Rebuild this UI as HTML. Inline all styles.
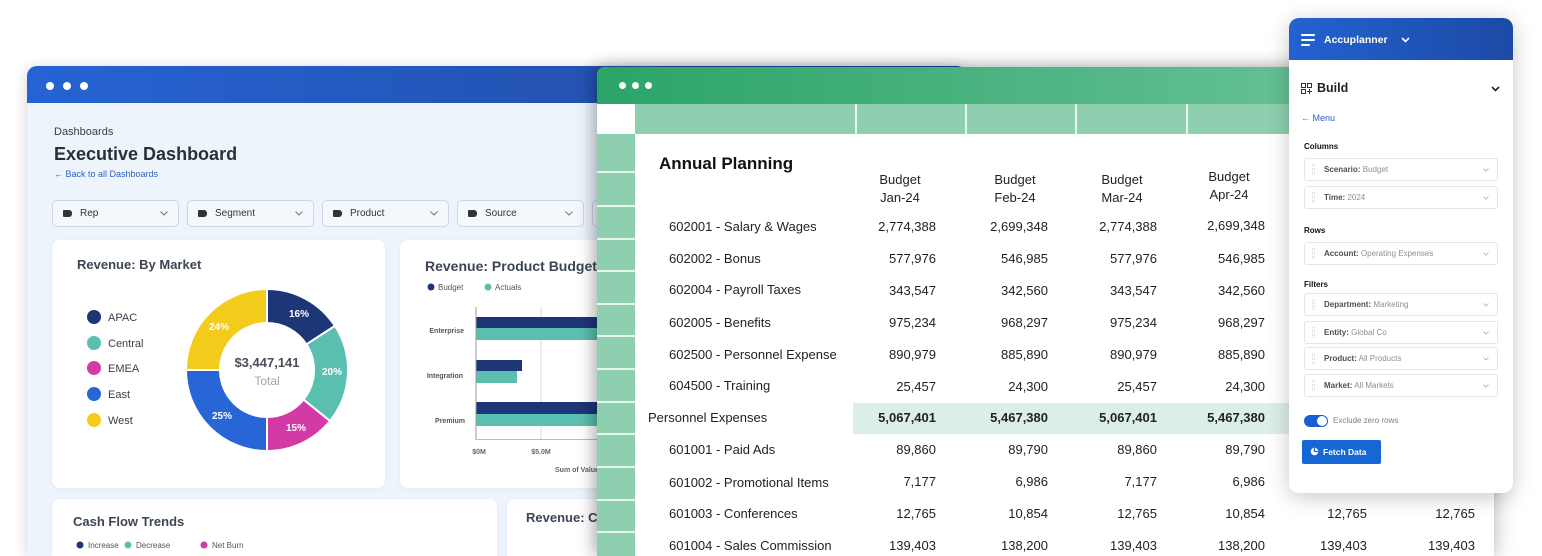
<!DOCTYPE html>
<html><head><meta charset="utf-8">
<style>
*{box-sizing:border-box;margin:0;padding:0}
html,body{width:1542px;height:556px;overflow:hidden;background:#fff}
body{font-family:"Liberation Sans",Arial,sans-serif;color:#222}
#w{position:relative;width:1542px;height:556px;overflow:hidden;background:#fff}
.a{position:absolute;white-space:nowrap}
.L{z-index:2}.S{z-index:6}.P{z-index:11}
.fl{top:200px;width:127px;height:27px;border:1px solid #cdd6e3;border-radius:5px;background:#f4f8fd;font-size:10px;line-height:25px;padding-left:27px;color:#333}
.fl i{position:absolute;left:10px;top:9px;width:9px;height:7px;background:#333;border-radius:1px 3px 3px 1px}
.fl svg{position:absolute;right:10px;top:10px}
.card{background:#fff;border-radius:8px;box-shadow:0 1px 4px rgba(40,70,120,.06)}
.rl{font-size:13px;line-height:16px;color:#222}
.v{font-size:13px;line-height:16px;width:120px;text-align:right;color:#222}
.b{font-weight:bold}
.ch{font-size:13px;line-height:18px;width:80px;text-align:center;color:#222}
.dd{left:1304px;width:194px;height:23px;border:1px solid #e3e5e9;border-radius:3px;font-size:8px;line-height:21px;padding-left:19px;color:#8a8f98;background:#fff}
.dd b{color:#4a4f58}
.dd i{position:absolute;left:7px;top:5px;width:3px;height:11px;border-left:1px dotted #d8d8d8;border-right:1px dotted #d8d8d8}
.dd svg{position:absolute;right:8px;top:9px}
.sec{left:1304px;font-size:8px;font-weight:bold;color:#111;line-height:10px}
</style></head><body><div id="w">

<!-- LEFT WINDOW -->
<div class="a" style="z-index:1;left:27px;top:66px;width:940px;height:490px;border-radius:10px 10px 0 0;background:#edf4fc;box-shadow:0 2px 14px rgba(0,0,0,.18);overflow:hidden">
  <div style="height:37px;background:linear-gradient(90deg,#2563d3,#2453b3 60%,#1f4aa0)"></div>
</div>
<div class="a L" style="left:46px;top:82px;width:8px;height:8px;border-radius:50%;background:#fff"></div>
<div class="a L" style="left:63px;top:82px;width:8px;height:8px;border-radius:50%;background:#fff"></div>
<div class="a L" style="left:80px;top:82px;width:8px;height:8px;border-radius:50%;background:#fff"></div>

<div class="a L" style="left:54px;top:125px;font-size:11px;line-height:14px;color:#3a3f4a">Dashboards</div>
<div class="a L" style="left:54px;top:143px;font-size:18px;line-height:22px;font-weight:bold;color:#2b2f38">Executive Dashboard</div>
<div class="a L" style="left:54px;top:169px;font-size:9px;line-height:11px;color:#2f62c5">&#8592; Back to all Dashboards</div>

<div class="a L fl" style="left:52px"><i></i>Rep<svg width="8" height="5"><polyline points="0.5,0.5 4,4 7.5,0.5" fill="none" stroke="#777" stroke-width="1"/></svg></div>
<div class="a L fl" style="left:187px"><i></i>Segment<svg width="8" height="5"><polyline points="0.5,0.5 4,4 7.5,0.5" fill="none" stroke="#777" stroke-width="1"/></svg></div>
<div class="a L fl" style="left:322px"><i></i>Product<svg width="8" height="5"><polyline points="0.5,0.5 4,4 7.5,0.5" fill="none" stroke="#777" stroke-width="1"/></svg></div>
<div class="a L fl" style="left:457px"><i></i>Source<svg width="8" height="5"><polyline points="0.5,0.5 4,4 7.5,0.5" fill="none" stroke="#777" stroke-width="1"/></svg></div>
<div class="a L fl" style="left:592px"><i></i></div>

<div class="a L card" style="left:52px;top:240px;width:333px;height:248px"></div>
<div class="a L card" style="left:400px;top:240px;width:400px;height:248px"></div>
<div class="a L card" style="left:52px;top:499px;width:445px;height:57px;border-radius:8px 8px 0 0"></div>
<div class="a L card" style="left:507px;top:499px;width:300px;height:57px;border-radius:8px 8px 0 0"></div>

<div class="a L" style="left:77px;top:257px;font-size:13px;line-height:16px;font-weight:bold;color:#3d4555">Revenue: By Market</div>
<div class="a L" style="left:425px;top:257px;font-size:14px;line-height:18px;font-weight:bold;color:#3d4555">Revenue: Product Budget</div>
<div class="a L" style="left:73px;top:514px;font-size:13px;line-height:16px;font-weight:bold;color:#3d4555">Cash Flow Trends</div>
<div class="a L" style="left:526px;top:510px;font-size:13px;line-height:16px;font-weight:bold;color:#3d4555">Revenue: Cash</div>

<svg class="a L" style="left:0;top:0" width="1542" height="556" font-family="Liberation Sans, Arial, sans-serif">
  <circle cx="94" cy="317" r="7" fill="#1c3678"/>
  <circle cx="94" cy="343" r="7" fill="#5bbfb0"/>
  <circle cx="94" cy="368" r="7" fill="#d33aa6"/>
  <circle cx="94" cy="394" r="7" fill="#2866d8"/>
  <circle cx="94" cy="420" r="7" fill="#f3cb1b"/>
  <g font-size="11" fill="#3a3f4a">
    <text x="108" y="321">APAC</text>
    <text x="108" y="347">Central</text>
    <text x="108" y="372">EMEA</text>
    <text x="108" y="398">East</text>
    <text x="108" y="424">West</text>
  </g>
  <g stroke="#fff" stroke-width="2">
    <path d="M267,289 A81,81 0 0 1 334.93,325.89 L306.42,344.40 A47,47 0 0 0 267,323 Z" fill="#1c3678"/>
    <path d="M334.93,325.89 A81,81 0 0 1 329.95,420.97 L303.52,399.58 A47,47 0 0 0 306.42,344.40 Z" fill="#5bbfb0"/>
    <path d="M329.95,420.97 A81,81 0 0 1 267,451 L267,417 A47,47 0 0 0 303.52,399.58 Z" fill="#d33aa6"/>
    <path d="M267,451 A81,81 0 0 1 186,370 L220,370 A47,47 0 0 0 267,417 Z" fill="#2866d8"/>
    <path d="M186,370 A81,81 0 0 1 267,289 L267,323 A47,47 0 0 0 220,370 Z" fill="#f3cb1b"/>
  </g>
  <g font-size="10" font-weight="bold" fill="#fff" text-anchor="middle">
    <text x="299" y="317">16%</text>
    <text x="332" y="375">20%</text>
    <text x="296" y="431">15%</text>
    <text x="222" y="419">25%</text>
    <text x="219" y="330">24%</text>
  </g>
  <text x="267" y="367" font-size="13" font-weight="bold" fill="#4a4f5a" text-anchor="middle">$3,447,141</text>
  <text x="267" y="385" font-size="12" fill="#a0a4ab" text-anchor="middle">Total</text>

  <circle cx="431" cy="287" r="3.5" fill="#1c3678"/>
  <text x="438" y="290" font-size="8" fill="#555">Budget</text>
  <circle cx="488" cy="287" r="3.5" fill="#5bbfb0"/>
  <text x="495" y="290" font-size="8" fill="#555">Actuals</text>
  <line x1="541" y1="307" x2="541" y2="439" stroke="#d8d8d8" stroke-width="1"/>
  <rect x="476" y="317" width="130" height="11" fill="#1c3678"/>
  <rect x="476" y="328" width="130" height="12" fill="#5bbfb0"/>
  <rect x="476" y="360" width="46" height="11" fill="#1c3678"/>
  <rect x="476" y="371" width="41" height="12" fill="#5bbfb0"/>
  <rect x="476" y="402" width="130" height="12" fill="#1c3678"/>
  <rect x="476" y="414" width="130" height="12" fill="#5bbfb0"/>
  <line x1="476" y1="307" x2="476" y2="440" stroke="#999" stroke-width="1"/>
  <line x1="476" y1="439.5" x2="606" y2="439.5" stroke="#bbb" stroke-width="1"/>
  <g font-size="7" font-weight="bold" fill="#555" text-anchor="end">
    <text x="464" y="333">Enterprise</text>
    <text x="463" y="378">Integration</text>
    <text x="465" y="423">Premium</text>
  </g>
  <g font-size="7" font-weight="bold" fill="#666" text-anchor="middle">
    <text x="479" y="454">$0M</text>
    <text x="541" y="454">$5.0M</text>
  </g>
  <text x="555" y="472" font-size="7" font-weight="bold" fill="#666">Sum of Value</text>

  <circle cx="80" cy="545" r="3.5" fill="#1c3678"/>
  <text x="88" y="548" font-size="8" fill="#555">Increase</text>
  <circle cx="128" cy="545" r="3.5" fill="#5bbfb0"/>
  <text x="136" y="548" font-size="8" fill="#555">Decrease</text>
  <circle cx="204" cy="545" r="3.5" fill="#d33aa6"/>
  <text x="212" y="548" font-size="8" fill="#555">Net Burn</text>
</svg>

<!-- SPREADSHEET -->
<div class="a" style="z-index:5;left:597px;top:67px;width:897px;height:489px;border-radius:8px 8px 0 0;background:#fff;box-shadow:-4px 0 16px rgba(0,0,0,.28),6px 0 22px rgba(0,0,0,.12);overflow:hidden">
  <div style="height:37px;background:linear-gradient(90deg,#2ba468,#4fb584 50%,#74c9a0)"></div>
  <div style="position:absolute;left:38px;top:37px;width:859px;height:30px;background:#8dcfae"></div>
  <div style="position:absolute;left:0;top:67px;width:38px;height:422px;background:#8dcfae"></div>
</div>
<div class="a S" style="left:619px;top:82px;width:7px;height:7px;border-radius:50%;background:#fff"></div>
<div class="a S" style="left:632px;top:82px;width:7px;height:7px;border-radius:50%;background:#fff"></div>
<div class="a S" style="left:645px;top:82px;width:7px;height:7px;border-radius:50%;background:#fff"></div>
<div class="a S" style="left:855px;top:104px;width:2px;height:30px;background:#e8f6ef"></div>
<div class="a S" style="left:965px;top:104px;width:2px;height:30px;background:#e8f6ef"></div>
<div class="a S" style="left:1075px;top:104px;width:2px;height:30px;background:#e8f6ef"></div>
<div class="a S" style="left:1186px;top:104px;width:2px;height:30px;background:#e8f6ef"></div>
<div class="a S" style="left:1296px;top:104px;width:2px;height:30px;background:#e8f6ef"></div>
<div class="a S" style="left:1406px;top:104px;width:2px;height:30px;background:#e8f6ef"></div>
<div class="a S" style="left:597px;top:171px;width:38px;height:2px;background:#e8f6ef"></div>
<div class="a S" style="left:597px;top:205px;width:38px;height:2px;background:#e8f6ef"></div>
<div class="a S" style="left:597px;top:238px;width:38px;height:2px;background:#e8f6ef"></div>
<div class="a S" style="left:597px;top:270px;width:38px;height:2px;background:#e8f6ef"></div>
<div class="a S" style="left:597px;top:303px;width:38px;height:2px;background:#e8f6ef"></div>
<div class="a S" style="left:597px;top:335px;width:38px;height:2px;background:#e8f6ef"></div>
<div class="a S" style="left:597px;top:368px;width:38px;height:2px;background:#e8f6ef"></div>
<div class="a S" style="left:597px;top:401px;width:38px;height:2px;background:#e8f6ef"></div>
<div class="a S" style="left:597px;top:433px;width:38px;height:2px;background:#e8f6ef"></div>
<div class="a S" style="left:597px;top:466px;width:38px;height:2px;background:#e8f6ef"></div>
<div class="a S" style="left:597px;top:499px;width:38px;height:2px;background:#e8f6ef"></div>
<div class="a S" style="left:597px;top:531px;width:38px;height:2px;background:#e8f6ef"></div>

<div class="a S" style="left:853px;top:403px;width:641px;height:31px;background:#dcefe6"></div>

<div class="a S" style="left:659px;top:153px;font-size:17px;line-height:22px;font-weight:bold;color:#111">Annual Planning</div>

<div class="a S ch" style="left:860px;top:171px">Budget</div>
<div class="a S ch" style="left:860px;top:189px">Jan-24</div>
<div class="a S ch" style="left:975px;top:171px">Budget</div>
<div class="a S ch" style="left:975px;top:189px">Feb-24</div>
<div class="a S ch" style="left:1082px;top:171px">Budget</div>
<div class="a S ch" style="left:1082px;top:189px">Mar-24</div>
<div class="a S ch" style="left:1189px;top:168px">Budget</div>
<div class="a S ch" style="left:1189px;top:186px">Apr-24</div>

<div class="a S rl" style="left:669px;top:219px">602001 - Salary &amp; Wages</div>
<div class="a S v" style="left:816px;top:219px">2,774,388</div>
<div class="a S v" style="left:928px;top:219px">2,699,348</div>
<div class="a S v" style="left:1037px;top:219px">2,774,388</div>
<div class="a S v" style="left:1145px;top:218px">2,699,348</div>

<div class="a S rl" style="left:669px;top:251px">602002 - Bonus</div>
<div class="a S v" style="left:816px;top:251px">577,976</div>
<div class="a S v" style="left:928px;top:251px">546,985</div>
<div class="a S v" style="left:1037px;top:251px">577,976</div>
<div class="a S v" style="left:1145px;top:251px">546,985</div>

<div class="a S rl" style="left:669px;top:282px">602004 - Payroll Taxes</div>
<div class="a S v" style="left:816px;top:283px">343,547</div>
<div class="a S v" style="left:928px;top:283px">342,560</div>
<div class="a S v" style="left:1037px;top:283px">343,547</div>
<div class="a S v" style="left:1145px;top:283px">342,560</div>

<div class="a S rl" style="left:669px;top:315px">602005 - Benefits</div>
<div class="a S v" style="left:816px;top:315px">975,234</div>
<div class="a S v" style="left:928px;top:315px">968,297</div>
<div class="a S v" style="left:1037px;top:315px">975,234</div>
<div class="a S v" style="left:1145px;top:315px">968,297</div>

<div class="a S rl" style="left:669px;top:347px">602500 - Personnel Expense</div>
<div class="a S v" style="left:816px;top:347px">890,979</div>
<div class="a S v" style="left:928px;top:347px">885,890</div>
<div class="a S v" style="left:1037px;top:347px">890,979</div>
<div class="a S v" style="left:1145px;top:347px">885,890</div>

<div class="a S rl" style="left:669px;top:378px">604500 - Training</div>
<div class="a S v" style="left:816px;top:379px">25,457</div>
<div class="a S v" style="left:928px;top:379px">24,300</div>
<div class="a S v" style="left:1037px;top:379px">25,457</div>
<div class="a S v" style="left:1145px;top:379px">24,300</div>

<div class="a S rl" style="left:648px;top:410px">Personnel Expenses</div>
<div class="a S v b" style="left:816px;top:410px">5,067,401</div>
<div class="a S v b" style="left:928px;top:410px">5,467,380</div>
<div class="a S v b" style="left:1037px;top:410px">5,067,401</div>
<div class="a S v b" style="left:1145px;top:410px">5,467,380</div>

<div class="a S rl" style="left:669px;top:442px">601001 - Paid Ads</div>
<div class="a S v" style="left:816px;top:442px">89,860</div>
<div class="a S v" style="left:928px;top:442px">89,790</div>
<div class="a S v" style="left:1037px;top:442px">89,860</div>
<div class="a S v" style="left:1145px;top:442px">89,790</div>

<div class="a S rl" style="left:669px;top:475px">601002 - Promotional Items</div>
<div class="a S v" style="left:816px;top:474px">7,177</div>
<div class="a S v" style="left:928px;top:474px">6,986</div>
<div class="a S v" style="left:1037px;top:474px">7,177</div>
<div class="a S v" style="left:1145px;top:474px">6,986</div>

<div class="a S rl" style="left:669px;top:506px">601003 - Conferences</div>
<div class="a S v" style="left:816px;top:506px">12,765</div>
<div class="a S v" style="left:928px;top:506px">10,854</div>
<div class="a S v" style="left:1037px;top:506px">12,765</div>
<div class="a S v" style="left:1145px;top:506px">10,854</div>
<div class="a S v" style="left:1247px;top:506px">12,765</div>
<div class="a S v" style="left:1355px;top:506px">12,765</div>

<div class="a S rl" style="left:669px;top:538px">601004 - Sales Commission</div>
<div class="a S v" style="left:816px;top:538px">139,403</div>
<div class="a S v" style="left:928px;top:538px">138,200</div>
<div class="a S v" style="left:1037px;top:538px">139,403</div>
<div class="a S v" style="left:1145px;top:538px">138,200</div>
<div class="a S v" style="left:1247px;top:538px">139,403</div>
<div class="a S v" style="left:1355px;top:538px">139,403</div>

<!-- PANEL -->
<div class="a" style="z-index:10;left:1289px;top:18px;width:224px;height:475px;border-radius:10px;background:#fff;box-shadow:0 4px 22px rgba(0,0,0,.22);overflow:hidden">
  <div style="height:42px;background:linear-gradient(90deg,#2362d0,#1c4aa6)"></div>
</div>
<div class="a P" style="left:1301px;top:34px;width:14px;height:2px;background:#fff;border-radius:1px"></div>
<div class="a P" style="left:1301px;top:39px;width:14px;height:2px;background:#fff;border-radius:1px"></div>
<div class="a P" style="left:1301px;top:44px;width:9px;height:2px;background:#fff;border-radius:1px"></div>
<div class="a P" style="left:1324px;top:33px;font-size:10.5px;line-height:14px;font-weight:bold;color:#fff">Accuplanner</div>
<svg class="a P" style="left:1401px;top:37px" width="9" height="6"><polyline points="1,1 4.5,4.5 8,1" fill="none" stroke="#fff" stroke-width="1.6"/></svg>

<svg class="a P" style="left:1301px;top:83px" width="11" height="11"><rect x="0.5" y="0.5" width="4" height="4" fill="none" stroke="#333" stroke-width="1"/><rect x="6.5" y="0.5" width="4" height="4" fill="none" stroke="#333" stroke-width="1"/><rect x="0.5" y="6.5" width="4" height="4" fill="none" stroke="#333" stroke-width="1"/><path d="M8.5,6 V11 M6,8.5 H11" stroke="#333" stroke-width="1"/></svg>
<div class="a P" style="left:1317px;top:81px;font-size:12.5px;line-height:15px;font-weight:bold;color:#222">Build</div>
<svg class="a P" style="left:1491px;top:86px" width="9" height="6"><polyline points="1,1 4.5,4.5 8,1" fill="none" stroke="#222" stroke-width="1.6"/></svg>

<div class="a P" style="left:1301px;top:113px;font-size:9px;line-height:11px;color:#2a62c4">&#8592; Menu</div>

<div class="a P sec" style="top:142px">Columns</div>
<div class="a P dd" style="top:158px"><i></i><b>Scenario:</b> Budget<svg width="6" height="4"><polyline points="0.5,0.5 3,3 5.5,0.5" fill="none" stroke="#aaa" stroke-width="0.8"/></svg></div>
<div class="a P dd" style="top:186px"><i></i><b>Time:</b> 2024<svg width="6" height="4"><polyline points="0.5,0.5 3,3 5.5,0.5" fill="none" stroke="#aaa" stroke-width="0.8"/></svg></div>
<div class="a P sec" style="top:226px">Rows</div>
<div class="a P dd" style="top:242px"><i></i><b>Account:</b> Operating Expenses<svg width="6" height="4"><polyline points="0.5,0.5 3,3 5.5,0.5" fill="none" stroke="#aaa" stroke-width="0.8"/></svg></div>
<div class="a P sec" style="top:280px">Filters</div>
<div class="a P dd" style="top:293px"><i></i><b>Department:</b> Marketing<svg width="6" height="4"><polyline points="0.5,0.5 3,3 5.5,0.5" fill="none" stroke="#aaa" stroke-width="0.8"/></svg></div>
<div class="a P dd" style="top:321px"><i></i><b>Entity:</b> Global Co<svg width="6" height="4"><polyline points="0.5,0.5 3,3 5.5,0.5" fill="none" stroke="#aaa" stroke-width="0.8"/></svg></div>
<div class="a P dd" style="top:347px"><i></i><b>Product:</b> All Products<svg width="6" height="4"><polyline points="0.5,0.5 3,3 5.5,0.5" fill="none" stroke="#aaa" stroke-width="0.8"/></svg></div>
<div class="a P dd" style="top:374px"><i></i><b>Market:</b> All Markets<svg width="6" height="4"><polyline points="0.5,0.5 3,3 5.5,0.5" fill="none" stroke="#aaa" stroke-width="0.8"/></svg></div>

<div class="a P" style="left:1304px;top:415px;width:24px;height:12px;border-radius:6px;background:#1a5fd1"></div>
<div class="a P" style="left:1317px;top:416px;width:10px;height:10px;border-radius:50%;background:#fff"></div>
<div class="a P" style="left:1333px;top:416px;font-size:8px;line-height:10px;color:#7a7f88">Exclude zero rows</div>

<div class="a P" style="left:1302px;top:440px;width:79px;height:24px;background:#1766d6;border-radius:2px"></div>
<svg class="a P" style="left:1310px;top:447px" width="9" height="9"><circle cx="4.5" cy="4.5" r="3.8" fill="#fff"/><path d="M4.5,1 V4.5 H8" stroke="#1766d6" stroke-width="1.2" fill="none"/></svg>
<div class="a P" style="left:1323px;top:447px;font-size:8.5px;line-height:10px;font-weight:bold;color:#fff">Fetch Data</div>

</div></body></html>
